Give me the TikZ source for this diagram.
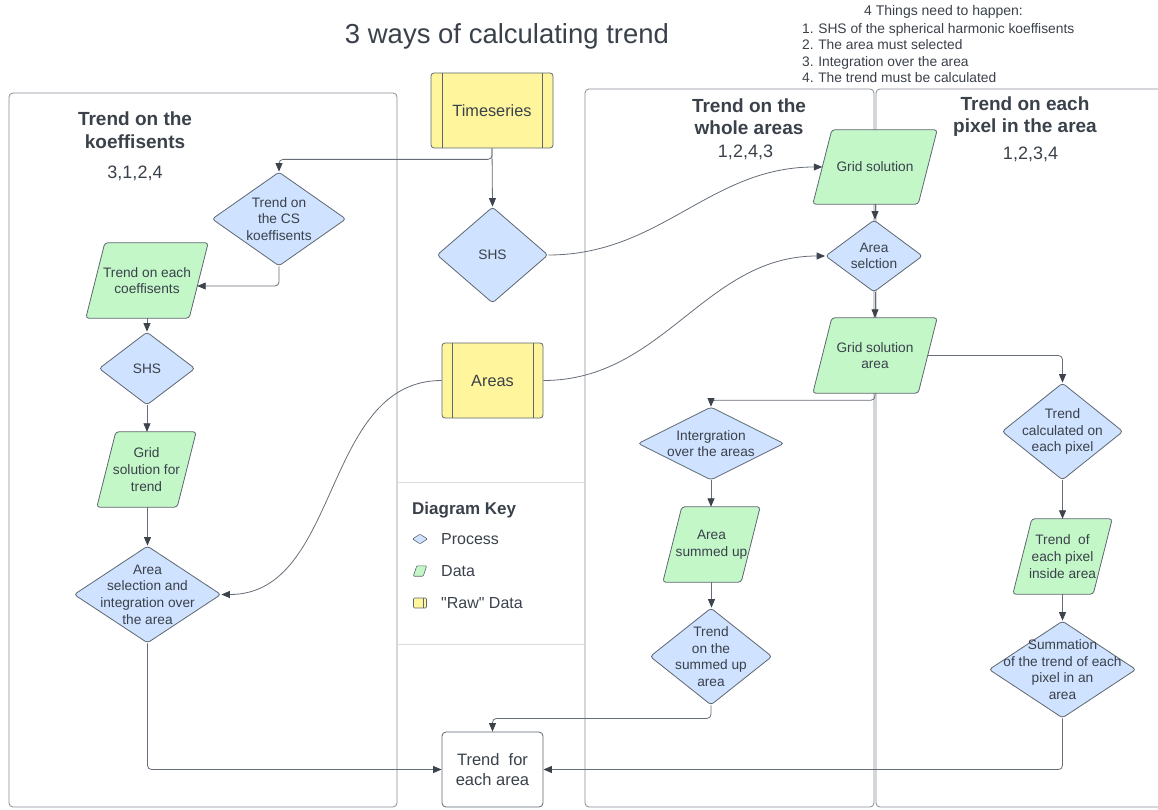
\documentclass[tikz,border=0pt]{standalone}
\usepackage{fontspec}
\setmainfont{Liberation Sans}
\newfontfamily\plainfont{Liberation Sans}
\usetikzlibrary{shapes.geometric,arrows.meta,calc}
\definecolor{textc}{HTML}{3A414A}
\definecolor{linec}{HTML}{666D78}
\definecolor{arrc}{HTML}{3D434C}
\definecolor{shapec}{HTML}{5E6670}
\definecolor{panelc}{HTML}{858B93}
\definecolor{sepc}{HTML}{D9DDE2}
\definecolor{procfill}{HTML}{CFE2FF}
\definecolor{datfill}{HTML}{C3F7C8}
\definecolor{rawfill}{HTML}{FFF59D}
\pgfdeclarelayer{panels}
\pgfdeclarelayer{shapes}
\pgfsetlayers{panels,shapes,main}
\tikzset{
  txt/.style={text=textc, font=\fontsize{13.7}{16.6}\selectfont, align=center, inner sep=0pt},
  base/.style={draw=shapec, line width=0.8pt, rounded corners=3pt, inner sep=0pt},
  proc/.style={base, shape=diamond, fill=procfill},
  dat/.style={shape=rectangle, draw=none, fill=none, inner sep=0pt},
  datshape/.style={draw=shapec, line width=0.8pt, rounded corners=3pt, fill=datfill},
  raw/.style={base, shape=rectangle, fill=rawfill, text=textc,
    font=\fontsize{16.3}{19}\selectfont,
    path picture={\draw[shapec, line width=0.8pt]
      ([xshift=#1]path picture bounding box.north west) -- ([xshift=#1]path picture bounding box.south west)
      ([xshift=-#1]path picture bounding box.north east) -- ([xshift=-#1]path picture bounding box.south east);}},
  raw/.default=11pt,
  panel/.style={draw=panelc, line width=0.8pt, rounded corners=4pt},
  ptitle/.style={text=textc, font=\fontsize{19}{22.5}\selectfont\bfseries, align=center},
  pnum/.style={text=textc, font=\fontsize{18}{21}\selectfont},
  conn/.style={draw=linec, line width=0.8pt, rounded corners=4pt,
    -{Triangle[length=8.5pt,width=7pt,color=arrc]}},
  keytxt/.style={text=textc, font=\fontsize{16}{19}\selectfont, anchor=west, inner sep=0pt},
}
\newcommand\paradraw[3]{\begin{pgfonlayer}{shapes}
  \draw[datshape,#1] ([xshift=#3]#2.north west) -- (#2.north east) -- ([xshift=-#3]#2.south east) -- (#2.south west) -- cycle;
  \end{pgfonlayer}}
\begin{document}
\begin{tikzpicture}[x=1pt,y=-1pt]
\useasboundingbox (0,0) rectangle (1158,810);

% panels
\begin{pgfonlayer}{panels}
\draw[panel] (9,93) rectangle (397,807);
\draw[panel] (585,89) rectangle (874,807);
\draw[panel] (876,89) rectangle (1166,807);
\draw[sepc, line width=0.8pt] (397,482) -- (585,482);
\draw[sepc, line width=0.8pt] (397,644) -- (585,644);
\end{pgfonlayer}

% title and notes
\node[text=textc, font=\fontsize{27.5}{32}\selectfont] (title) at (507,36) {3 ways of calculating trend};
\node[text=textc, font=\fontsize{14}{16.4}\selectfont] (nhead) at (943.5,12) {4 Things need to happen:};
\node[text=textc, font=\fontsize{13.8}{16.4}\selectfont, align=left, anchor=west, inner sep=0pt] (nlist) at (802,53)
  {1.\,\,SHS of the spherical harmonic koeffisents\\2.\,\,The area must selected\\3.\,\,Integration over the area\\4.\,\,The trend must be calculated};

% panel titles
\node[ptitle] (t1) at (135,130) {Trend on the\\koeffisents};
\node[pnum] (n1) at (135,173) {3,1,2,4};
\node[ptitle] (t2) at (749,116.5) {Trend on the\\whole areas};
\node[pnum] (n2) at (745.5,152) {1,2,4,3};
\node[ptitle] (t3) at (1025,116.5) {Trend on each\\pixel in the area};
\node[pnum] (n3) at (1030.5,154) {1,2,3,4};

% middle raw data
\node[raw, minimum width=122, minimum height=75] (ts) at (492,110.5) {Timeseries};
\node[proc, minimum width=111, minimum height=96, label={[txt]center:SHS}] (shs2) at (492.5,255) {};
\node[raw=10pt, minimum width=101, minimum height=75] (areas) at (492.5,380.5) {Areas};
\node[base, draw=shapec, fill=white, rounded corners=4pt, minimum width=101, minimum height=75,
  text=textc, align=center, font=\fontsize{16.5}{20}\selectfont] (tfe) at (492.5,769.5) {Trend\ \ for\\each area};

% left panel
\node[proc, minimum width=134, minimum height=94, label={[txt]center:{Trend on\\the CS\\koeffisents}}] (cs) at (279,219) {};
\node[dat, minimum width=122, minimum height=75, label={[txt]center:{Trend on each\\coeffisents}}] (tec) at (147,280.5) {};
\paradraw{}{tec}{19pt}
\node[proc, minimum width=96, minimum height=73, label={[txt]center:SHS}] (shs1) at (147,368.5) {};
\node[dat, minimum width=99, minimum height=75, label={[txt]center:{Grid\\solution for\\trend}}] (gst) at (146.5,469.5) {};
\paradraw{}{gst}{19pt}
\node[proc, minimum width=147, minimum height=97, label={[txt]center:{Area\\selection and\\integration over\\the area}}] (asi) at (147.5,594.5) {};

% whole areas panel
\node[dat, minimum width=124, minimum height=74, label={[txt]center:{Grid solution}}] (gsw) at (875,167) {};
\paradraw{}{gsw}{19pt}
\node[proc, minimum width=97, minimum height=72, label={[txt]center:{Area\\selction}}] (asw) at (874,256) {};
\node[dat, minimum width=124, minimum height=75, label={[txt]center:{Grid solution\\area}}] (gsa) at (875,355.5) {};
\paradraw{}{gsa}{19pt}
\node[proc, minimum width=146, minimum height=73, label={[txt]center:{Intergration\\over the areas}}] (integ) at (711,443.5) {};
\node[dat, minimum width=97, minimum height=75, label={[txt]center:{Area\\summed up}}] (asu) at (711.5,544.5) {};
\paradraw{}{asu}{19pt}
\node[proc, minimum width=122, minimum height=97, label={[txt]center:{Trend\\on the\\summed up\\area}}] (tsu) at (711,656.5) {};

% pixel panel
\node[proc, minimum width=121, minimum height=97, label={[txt]center:{Trend\\calculated on\\each pixel}}] (tcp) at (1062.5,431.5) {};
\node[dat, minimum width=99, minimum height=75, label={[txt]center:{Trend\ \ of\\each pixel\\inside area}}] (tep) at (1062.5,556.5) {};
\paradraw{}{tep}{19pt}
\node[proc, minimum width=147, minimum height=97, label={[txt]center:{Summation\\of the trend of each\\pixel in an\\area}}] (sum) at (1062.5,669.5) {};

% key
\node[text=textc, font=\fontsize{17}{20}\selectfont\bfseries, anchor=west, inner sep=0pt] (key) at (412,510) {Diagram Key};
\node[proc, minimum width=15, minimum height=10, rounded corners=1pt, line width=0.6pt] (kp) at (420,539) {};
\node[keytxt] (kpt) at (441,539) {Process};
\node[dat, minimum width=13, minimum height=10] (kd) at (420,571) {};
\paradraw{rounded corners=1pt, line width=0.6pt}{kd}{3.5pt}
\node[keytxt] (kdt) at (441,571) {Data};
\node[base, shape=rectangle, fill=rawfill, minimum width=13, minimum height=10, rounded corners=1pt, line width=0.6pt,
  path picture={\draw[shapec, line width=0.6pt] ([xshift=-3pt]path picture bounding box.north east) -- ([xshift=-3pt]path picture bounding box.south east);}] (kr) at (420,603) {};
\node[keytxt] (krt) at (441,603) {\plainfont "Raw" Data};

% connectors
\draw[conn] (ts.south) -- ++(0,11) -| (cs.north);
\draw[conn] (ts.south) -- (shs2.north);
\draw[conn] (cs.south) |- ([xshift=-11pt,yshift=-5.5pt]tec.east);
\draw[conn] (tec.south) -- (shs1.north);
\draw[conn] (shs1.south) -- (gst.north -| shs1.south);
\draw[conn] (gst.south -| asi.north) -- (asi.north);
\draw[conn] (asi.south) |- (tfe.west);
\draw[conn] (areas.west) to[out=180,in=0] (asi.east);
\draw[conn] (shs2.east) to[out=0,in=180] ([xshift=9.5pt]gsw.west);
\draw[conn] (areas.east) to[out=0,in=180] (asw.west);
\draw[conn] (gsw.south) -- (asw.north -| gsw.south);
\draw[conn] (asw.south -| gsa.north) -- (gsa.north);
\draw[conn] (gsa.south) -- ++(0,7) -| (integ.north);
\draw[conn] ([xshift=-9.5pt]gsa.east) -| (tcp.north);
\draw[conn] (integ.south) -- (asu.north -| integ.south);
\draw[conn] (asu.south) -- (tsu.north -| asu.south);
\draw[conn] (tsu.south) -- ++(0,13) -| (tfe.north);
\draw[conn] (tcp.south) -- (tep.north -| tcp.south);
\draw[conn] (tep.south) -- (sum.north -| tep.south);
\draw[conn] (sum.south) |- (tfe.east);
\end{tikzpicture}
\end{document}
